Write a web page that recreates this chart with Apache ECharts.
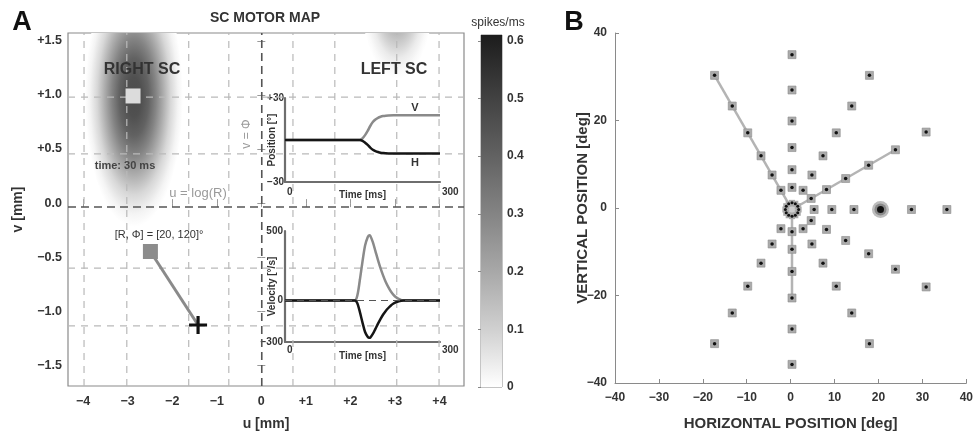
<!DOCTYPE html>
<html><head><meta charset="utf-8">
<script src="https://cdn.jsdelivr.net/npm/echarts@6/dist/echarts.min.js"></script>
<style>html,body{margin:0;padding:0;background:#fff}#c{width:976px;height:436px}</style>
</head><body><div id="c"></div>
<script>
// ---------- Panel A : SC motor map ----------
const uTicks = [-4, -3, -2, -1, 0, 1, 2, 3, 4];
const uTickLabels = ['−4', '−3', '−2', '−1', '0', '+1', '+2', '+3', '+4'];
const vTicks = [-1.5, -1, -0.5, 0, 0.5, 1, 1.5];
const vTickLabels = ['−1.5', '−1.0', '−0.5', '0.0', '+0.5', '+1.0', '+1.5'];
const uRange = [-4.34, 4.55];
const vRange = [-1.69, 1.572];
const gridU = [-3.98, -3.02, -1.63, -0.73, 0.71, 1.65, 3.04, 3.99];
const gridV = [0.98, 0.455, -0.6, -1.135];
const axisU = [0.01];
const axisV = [-0.036];
// activity blobs: [centre u, centre v, radius u, radius v, peak spikes/ms]
const blobRight = [-2.86, 0.98, 1.1, 1.2, 0.47];
const blobLeft = [3.05, 1.9, 0.8, 0.75, 0.24];
const blobProfileR = [0, 0.15, 0.3, 0.45, 0.6, 0.75, 0.9, 1];
const blobProfileRel = [1, 0.97, 0.85, 0.64, 0.4, 0.18, 0.05, 0];
const currentSite = [[-2.88, 0.99]];
const targetSite = [[-2.49, -0.447]];
const crossSite = [[-1.42, -1.126]];
// colour bar
const cbMax = 0.61;
const cbTicks = [0, 0.1, 0.2, 0.3, 0.4, 0.5, 0.6];
const cbTickLabels = ['0', '0.1', '0.2', '0.3', '0.4', '0.5', '0.6'];
const cmapVals = [0, 0.1, 0.2, 0.3, 0.4, 0.5, 0.61];
const cmapGray = [255, 208, 168, 132, 98, 66, 28];
// insets
const timeTicks = [0, 300];
const posTicks = [-30, 30];
const posTickLabels = ['−30', '+30'];
const velTicks = [-300, 0, 500];
const velTickLabels = ['−300', '0', '500'];
const tPos = [0, 145, 150, 155, 160, 165, 170, 175, 180, 185, 190, 195, 200, 210, 300];
const posV = [0, 0, 1.2, 3.5, 6.5, 10.0, 12.8, 14.6, 15.8, 16.6, 17.1, 17.4, 17.55, 17.6, 17.6];
const posH = [0, 0, -0.6, -1.9, -3.5, -5.4, -6.9, -7.9, -8.6, -9.1, -9.35, -9.5, -9.6, -9.65, -9.65];
const tVel = [0, 135, 140, 145, 150, 155, 160, 163, 165, 170, 175, 180, 185, 190, 195, 200, 205, 210, 215, 220, 225, 230, 300];
const velV = [0, 0, 35, 150, 280, 395, 455, 470, 466, 420, 355, 290, 230, 178, 132, 95, 64, 40, 22, 10, 3, 0, 0];
const velH = [0, 0, -20, -85, -160, -228, -262, -270, -268, -242, -205, -168, -133, -102, -76, -55, -37, -23, -13, -6, -2, 0, 0];

// ---------- Panel B : targets (polar: [R deg, angle deg]) ----------
const targetRadii = [5, 9, 14, 20, 27, 35];
const targetAngles = [0, 30, 60, 90, 120, 240, 270, 300, 330];
const innerRingR = 1.5;
const innerRingAngles = [0, 30, 60, 90, 120, 150, 180, 210, 240, 270, 300, 330];
const goalTarget = [[20, 0]];
const trajectories = [[[0, 120], [35, 120]], [[0, 30], [27, 30]], [[0, 270], [20, 270]]];

const FONT = '"Liberation Sans", Arial, Helvetica, sans-serif';
function gray(v) {
  const top = cmapVals[cmapVals.length - 1];
  v = Math.max(0, Math.min(top, v));
  for (let i = 1; i < cmapVals.length; i++) {
    if (v <= cmapVals[i]) {
      const f = (v - cmapVals[i - 1]) / (cmapVals[i] - cmapVals[i - 1]);
      const g = Math.round(cmapGray[i - 1] + f * (cmapGray[i] - cmapGray[i - 1]));
      return 'rgb(' + g + ',' + g + ',' + g + ')';
    }
  }
  const g = cmapGray[cmapGray.length - 1];
  return 'rgb(' + g + ',' + g + ',' + g + ')';
}
function labelFrom(ticks, labels) {
  return function (v) {
    const i = ticks.findIndex(t => Math.abs(t - v) < 1e-6);
    return i >= 0 ? labels[i] : '';
  };
}
function renderBlob(params, api) {
  const c = api.coord([api.value(0), api.value(1)]);
  const s = api.size([api.value(2), api.value(3)]);
  const pk = api.value(4);
  const stops = blobProfileR.map((r, i) => ({ offset: r, color: gray(pk * blobProfileRel[i]) }));
  return {
    type: 'circle', x: c[0], y: c[1], scaleY: s[1] / s[0],
    shape: { cx: 0, cy: 0, r: s[0] },
    style: { fill: new echarts.graphic.RadialGradient(0.5, 0.5, 0.5, stops) }
  };
}
function vLine(color, width, dash) {
  return function (params, api) {
    const u = api.value(0);
    const a = api.coord([u, vRange[0]]), b = api.coord([u, vRange[1]]);
    return { type: 'line', shape: { x1: a[0], y1: a[1], x2: b[0], y2: b[1] }, style: { stroke: color, lineWidth: width, lineDash: dash } };
  };
}
function hLine(color, width, dash) {
  return function (params, api) {
    const v = api.value(1);
    const a = api.coord([uRange[0], v]), b = api.coord([uRange[1], v]);
    return { type: 'line', shape: { x1: a[0], y1: a[1], x2: b[0], y2: b[1] }, style: { stroke: color, lineWidth: width, lineDash: dash } };
  };
}
function renderColorbar(params, api) {
  const a = api.coord([api.value(0), api.value(1)]);
  const b = api.coord([api.value(2), api.value(3)]);
  const stops = cmapVals.map((v, i) => ({ offset: 1 - v / cbMax, color: gray(v) })).reverse();
  return {
    type: 'rect', shape: { x: a[0], y: b[1], width: b[0] - a[0], height: a[1] - b[1] },
    style: { fill: new echarts.graphic.LinearGradient(0, 0, 0, 1, stops) }
  };
}

const tickLabelA = { fontFamily: FONT, fontWeight: 'bold', fontSize: 12.5, color: '#333' };
const insetLabel = { fontFamily: FONT, fontWeight: 'bold', fontSize: 10, color: '#333' };
const insetAxisLine = { show: true, onZero: false, lineStyle: { color: '#6e6e6e', width: 2.2 } };

const targets = [];
targetRadii.forEach(r => targetAngles.forEach(a => targets.push([r, a])));
const ring = innerRingAngles.map(a => [innerRingR, a]);

const option = {
  animation: false,
  textStyle: { fontFamily: FONT },
  grid: [
    { left: 68, top: 33, width: 396, height: 353, show: true, borderColor: '#8a8a8a', borderWidth: 1.2 },
    { left: 285, top: 98, width: 155, height: 84 },
    { left: 285, top: 231, width: 155, height: 111 },
    { left: 481, top: 35, width: 21, height: 352, show: true, borderColor: '#8a8a8a', borderWidth: 1 },
    { left: 615, top: 33, width: 354, height: 353 }
  ],
  polar: { center: [792, 209.5], radius: 177 },
  angleAxis: { type: 'value', min: 0, max: 360, startAngle: 0, clockwise: false, show: false },
  radiusAxis: { type: 'value', min: 0, max: 40, show: false },
  xAxis: [
    { gridIndex: 0, type: 'value', min: uRange[0], max: uRange[1], axisLine: { show: false }, splitLine: { show: false },
      name: 'u [mm]', nameLocation: 'middle', nameGap: 31, nameMoveOverlap: false, nameTextStyle: { fontFamily: FONT, fontWeight: 'bold', fontSize: 14, color: '#333' },
      axisTick: { inside: true, length: 4, customValues: uTicks, lineStyle: { color: '#999' } },
      axisLabel: Object.assign({ margin: 9, customValues: uTicks, formatter: labelFrom(uTicks, uTickLabels) }, tickLabelA) },
    { gridIndex: 0, type: 'value', position: 'top', min: uRange[0], max: uRange[1], axisLine: { show: false }, splitLine: { show: false },
      axisTick: { inside: true, length: 4, customValues: uTicks, lineStyle: { color: '#999' } }, axisLabel: { show: false } },
    { gridIndex: 1, type: 'value', min: 0, max: 300, axisLine: insetAxisLine, axisTick: { show: false }, splitLine: { show: false },
      name: 'Time [ms]', nameLocation: 'middle', nameGap: 8, nameMoveOverlap: false, nameTextStyle: Object.assign({ verticalAlign: 'top' }, insetLabel),
      axisLabel: Object.assign({ customValues: timeTicks, align: 'left', margin: 5, padding: [0, 0, 0, 2] }, insetLabel) },
    { gridIndex: 2, type: 'value', min: 0, max: 300, axisLine: insetAxisLine, axisTick: { show: false }, splitLine: { show: false },
      name: 'Time [ms]', nameLocation: 'middle', nameGap: 9, nameMoveOverlap: false, nameTextStyle: Object.assign({ verticalAlign: 'top' }, insetLabel),
      axisLabel: Object.assign({ customValues: timeTicks, align: 'left', margin: 3, padding: [0, 0, 0, 2] }, insetLabel) },
    { gridIndex: 3, type: 'value', min: 0, max: 1, show: false },
    { gridIndex: 4, type: 'value', min: -40, max: 40, interval: 10, splitLine: { show: false },
      axisLine: { onZero: false, lineStyle: { color: '#8a8a8a', width: 1 } },
      axisTick: { inside: true, length: 4, lineStyle: { color: '#8a8a8a' } },
      axisLabel: Object.assign({ margin: 9, formatter: v => (v < 0 ? '−' + (-v) : String(v)) }, tickLabelA, { fontSize: 12 }),
      name: 'HORIZONTAL POSITION [deg]', nameLocation: 'middle', nameGap: 33, nameMoveOverlap: false,
      nameTextStyle: { fontFamily: FONT, fontWeight: 'bold', fontSize: 15, color: '#333' } }
  ],
  yAxis: [
    { gridIndex: 0, type: 'value', min: vRange[0], max: vRange[1], axisLine: { show: false }, splitLine: { show: false },
      name: 'v [mm]', nameLocation: 'middle', nameGap: 43, nameMoveOverlap: false, nameTextStyle: { fontFamily: FONT, fontWeight: 'bold', fontSize: 14, color: '#333' },
      axisTick: { inside: true, length: 4, customValues: vTicks, lineStyle: { color: '#999' } },
      axisLabel: Object.assign({ margin: 6, customValues: vTicks, formatter: labelFrom(vTicks, vTickLabels) }, tickLabelA) },
    { gridIndex: 0, type: 'value', position: 'right', min: vRange[0], max: vRange[1], axisLine: { show: false }, splitLine: { show: false },
      axisTick: { inside: true, length: 4, customValues: vTicks, lineStyle: { color: '#999' } }, axisLabel: { show: false } },
    { gridIndex: 1, type: 'value', min: -30, max: 30, axisLine: insetAxisLine, axisTick: { show: false }, splitLine: { show: false },
      name: 'Position [°]', nameLocation: 'middle', nameGap: 8, nameMoveOverlap: false, nameTextStyle: insetLabel,
      axisLabel: Object.assign({ margin: 1, customValues: posTicks, formatter: labelFrom(posTicks, posTickLabels) }, insetLabel) },
    { gridIndex: 2, type: 'value', min: -300, max: 500, axisLine: insetAxisLine, axisTick: { show: false }, splitLine: { show: false },
      name: 'Velocity [°/s]', nameLocation: 'middle', nameGap: 8, nameMoveOverlap: false, nameTextStyle: insetLabel,
      axisLabel: Object.assign({ margin: 2, customValues: velTicks, formatter: labelFrom(velTicks, velTickLabels) }, insetLabel) },
    { gridIndex: 3, type: 'value', min: 0, max: cbMax, position: 'right', axisLine: { show: false }, splitLine: { show: false },
      axisTick: { inside: true, length: 3, customValues: cbTicks, lineStyle: { color: '#888' } },
      axisLabel: Object.assign({ margin: 5, customValues: cbTicks, formatter: labelFrom(cbTicks, cbTickLabels) }, tickLabelA, { fontSize: 12 }) },
    { gridIndex: 4, type: 'value', min: -40, max: 40, interval: 20, splitLine: { show: false },
      axisLine: { show: true, onZero: false, lineStyle: { color: '#8a8a8a', width: 1 } },
      axisTick: { show: true, inside: true, length: 4, lineStyle: { color: '#8a8a8a' } },
      axisLabel: Object.assign({ margin: 8, formatter: v => (v < 0 ? '−' + (-v) : String(v)) }, tickLabelA, { fontSize: 12 }),
      name: 'VERTICAL POSITION [deg]', nameLocation: 'middle', nameGap: 25, nameMoveOverlap: false,
      nameTextStyle: { fontFamily: FONT, fontWeight: 'bold', fontSize: 15, color: '#333' } }
  ],
  series: [
    { type: 'custom', xAxisIndex: 0, yAxisIndex: 0, z: 1, clip: true, renderItem: renderBlob, data: [blobRight, blobLeft], silent: true },
    { type: 'custom', xAxisIndex: 0, yAxisIndex: 0, z: 3, renderItem: vLine('#b9b9b9', 1.2, [7, 6]), data: gridU.map(u => [u, 0]), silent: true },
    { type: 'custom', xAxisIndex: 0, yAxisIndex: 0, z: 3, renderItem: hLine('#b9b9b9', 1.2, [7, 6]), data: gridV.map(v => [0, v]), silent: true },
    { type: 'custom', xAxisIndex: 0, yAxisIndex: 0, z: 3, renderItem: vLine('#555', 1.6, [8, 5]), data: axisU.map(u => [u, 0]), silent: true },
    { type: 'custom', xAxisIndex: 0, yAxisIndex: 0, z: 3, renderItem: hLine('#555', 1.6, [8, 5]), data: axisV.map(v => [0, v]), silent: true },
    { type: 'line', xAxisIndex: 0, yAxisIndex: 0, z: 5, data: [targetSite[0], crossSite[0]], symbol: 'none', lineStyle: { color: '#8a8a8a', width: 3 } },
    { type: 'scatter', xAxisIndex: 0, yAxisIndex: 0, z: 6, data: currentSite, symbol: 'rect', symbolSize: 15, itemStyle: { color: '#dcdcdc', opacity: 1 } },
    { type: 'scatter', xAxisIndex: 0, yAxisIndex: 0, z: 6, data: targetSite, symbol: 'rect', symbolSize: 15, itemStyle: { color: '#8c8c8c', opacity: 1 } },
    { type: 'scatter', xAxisIndex: 0, yAxisIndex: 0, z: 7, data: crossSite, symbol: 'path://M7,0h3v7h7v3h-7v7h-3v-7h-7v-3h7z', symbolSize: 18, itemStyle: { color: '#111', opacity: 1 } },
    // position inset
    { type: 'line', xAxisIndex: 2, yAxisIndex: 2, z: 4, data: tPos.map((t, i) => [t, posV[i]]), symbol: 'none', smooth: 0.3, lineStyle: { color: '#8a8a8a', width: 2.5 } },
    { type: 'line', xAxisIndex: 2, yAxisIndex: 2, z: 4, data: tPos.map((t, i) => [t, posH[i]]), symbol: 'none', smooth: 0.3, lineStyle: { color: '#151515', width: 2.5 } },
    // velocity inset
    { type: 'line', xAxisIndex: 3, yAxisIndex: 3, z: 4, data: tVel.map((t, i) => [t, velV[i]]), symbol: 'none', smooth: 0.3, lineStyle: { color: '#8a8a8a', width: 2.5 },
      markLine: { silent: true, symbol: 'none', label: { show: false }, lineStyle: { color: '#555', width: 1.2, type: [7, 5] }, data: [{ yAxis: 0 }] } },
    { type: 'line', xAxisIndex: 3, yAxisIndex: 3, z: 4, data: tVel.map((t, i) => [t, velH[i]]), symbol: 'none', smooth: 0.3, lineStyle: { color: '#151515', width: 2.5 } },
    // colour bar
    { type: 'custom', xAxisIndex: 4, yAxisIndex: 4, renderItem: renderColorbar, data: [[0, 0, 1, cbMax]], silent: true },
    // panel B
    ...trajectories.map(tr => ({ type: 'line', coordinateSystem: 'polar', z: 2, data: tr, symbol: 'none', lineStyle: { color: '#b4b4b4', width: 2.5 } })),
    { type: 'scatter', coordinateSystem: 'polar', z: 3, data: [[0, 0]], symbolSize: 9, itemStyle: { color: '#cfcfcf', opacity: 1 } },
    { type: 'scatter', coordinateSystem: 'polar', z: 3, data: ring, symbol: 'rect', symbolSize: 6, itemStyle: { color: '#aaaaaa', opacity: 1 } },
    { type: 'scatter', coordinateSystem: 'polar', z: 4, data: ring, symbolSize: 3, itemStyle: { color: '#111', opacity: 1 } },
    { type: 'scatter', coordinateSystem: 'polar', z: 3, data: targets, symbol: 'rect', symbolSize: 8, itemStyle: { color: '#ababab', borderColor: '#8c8c8c', borderWidth: 0.6, opacity: 1 } },
    { type: 'scatter', coordinateSystem: 'polar', z: 4, data: targets, symbolSize: 3.5, itemStyle: { color: '#111', opacity: 1 } },
    { type: 'scatter', coordinateSystem: 'polar', z: 5, data: goalTarget, symbolSize: 17, itemStyle: { color: '#bdbdbd', opacity: 1 } },
    { type: 'scatter', coordinateSystem: 'polar', z: 6, data: goalTarget, symbolSize: 12, itemStyle: { color: '#8a8a8a', opacity: 1 } },
    { type: 'scatter', coordinateSystem: 'polar', z: 7, data: goalTarget, symbolSize: 7, itemStyle: { color: '#111', opacity: 1 } }
  ],
  graphic: [
    { type: 'text', x: 22, y: 23, style: { text: 'A', font: 'bold 27px ' + FONT, fill: '#111', align: 'center', verticalAlign: 'middle' } },
    { type: 'text', x: 574, y: 23, style: { text: 'B', font: 'bold 27px ' + FONT, fill: '#111', align: 'center', verticalAlign: 'middle' } },
    { type: 'text', x: 265, y: 18, style: { text: 'SC MOTOR MAP', font: 'bold 14px ' + FONT, fill: '#333', align: 'center', verticalAlign: 'middle' } },
    { type: 'text', x: 142, y: 70, z: 10, style: { text: 'RIGHT SC', font: 'bold 16px ' + FONT, fill: '#333', align: 'center', verticalAlign: 'middle' } },
    { type: 'text', x: 394, y: 70, z: 10, style: { text: 'LEFT SC', font: 'bold 16px ' + FONT, fill: '#333', align: 'center', verticalAlign: 'middle' } },
    { type: 'text', x: 125, y: 166, z: 10, style: { text: 'time: 30 ms', font: 'bold 11px ' + FONT, fill: '#444', align: 'center', verticalAlign: 'middle' } },
    { type: 'text', x: 198, y: 193, z: 10, style: { text: 'u = log(R)', font: '13px ' + FONT, fill: '#9a9a9a', align: 'center', verticalAlign: 'middle' } },
    { type: 'text', x: 247, y: 134, z: 10, rotation: Math.PI / 2, style: { text: 'v = Φ', font: '12px ' + FONT, fill: '#9a9a9a', align: 'center', verticalAlign: 'middle' } },
    { type: 'text', x: 159, y: 235, z: 10, style: { text: '[R, Φ] = [20, 120]°', font: '11px ' + FONT, fill: '#333', align: 'center', verticalAlign: 'middle' } },
    { type: 'text', x: 498, y: 23, style: { text: 'spikes/ms', font: '12px ' + FONT, fill: '#333', align: 'center', verticalAlign: 'middle' } },
    { type: 'text', x: 415, y: 108, z: 10, style: { text: 'V', font: 'bold 11px ' + FONT, fill: '#333', align: 'center', verticalAlign: 'middle' } },
    { type: 'text', x: 415, y: 163, z: 10, style: { text: 'H', font: 'bold 11px ' + FONT, fill: '#333', align: 'center', verticalAlign: 'middle' } }
  ]
};
const chart = echarts.init(document.getElementById('c'), null, { renderer: 'canvas' });
chart.setOption(option);
</script></body></html>
